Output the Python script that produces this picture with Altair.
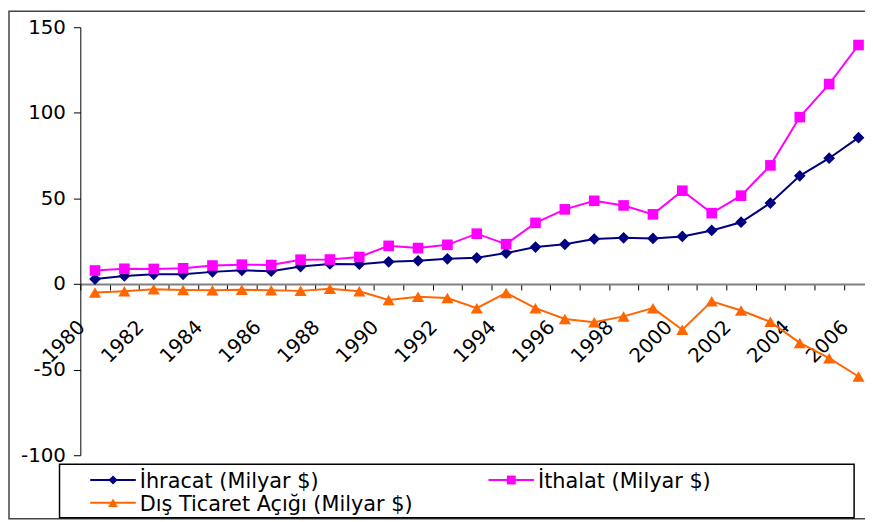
import altair as alt
import pandas as pd

years = list(range(1980, 2007))
ihracat = [2.9, 4.7, 5.7, 5.7, 7.1, 8.0, 7.5, 10.2, 11.7, 11.6, 13.0, 13.6, 14.7, 15.3,
           18.1, 21.6, 23.2, 26.3, 27.0, 26.6, 27.8, 31.3, 36.1, 47.3, 63.2, 73.5, 85.5]
ithalat = [7.9, 8.9, 8.8, 9.2, 10.8, 11.3, 11.1, 14.2, 14.3, 15.8, 22.3, 21.0, 22.9, 29.4,
           23.3, 35.7, 43.6, 48.6, 45.9, 40.7, 54.5, 41.4, 51.6, 69.3, 97.5, 116.8, 139.6]
acik = [-5.0, -4.2, -3.1, -3.5, -3.6, -3.4, -3.6, -4.0, -2.7, -4.2, -9.3, -7.4, -8.2, -14.1,
        -5.2, -14.1, -20.4, -22.3, -18.9, -14.1, -26.7, -10.1, -15.5, -22.1, -34.4, -43.3, -54.0]

series_names = ["İhracat (Milyar $)", "İthalat (Milyar $)", "Dış Ticaret Açığı (Milyar $)"]
series_colors = ["#000080", "#FF00FF", "#FF6600"]
series_shapes = ["diamond", "square", "triangle-up"]
series_sizes = [140, 115, 150]
legend_sizes = [85, 80, 100]
y_ticks = [-100, -50, 0, 50, 100, 150]

rows = []
for name, vals in zip(series_names, [ihracat, ithalat, acik]):
    for yr, v in zip(years, vals):
        rows.append({"year": yr, "series": name, "value": v})
df = pd.DataFrame(rows)

FONT = "DejaVu Sans"
PLOT_W, PLOT_H = 792, 432
Y_MIN, Y_MAX = -100, 150
px_per_year = 29.64
x_dom = [years[0] - 0.5, years[0] - 0.5 + PLOT_W / px_per_year]
zero_offset = -PLOT_H * (0 - Y_MIN) / (Y_MAX - Y_MIN)

tick_vals = [yr - 0.5 for yr in years]

x_enc = alt.X(
    "year:Q",
    scale=alt.Scale(domain=x_dom, nice=False, zero=False),
    axis=alt.Axis(
        values=tick_vals,
        labelExpr="(datum.value + 0.5) % 2 == 0 ? '' + (datum.value + 0.5) : ''",
        labelAngle=-45, labelAlign="right", labelBaseline="top",
        labelOffset=-6, labelPadding=27, tickSize=6, tickColor="black", tickWidth=1,
        domainColor="#808080", domainWidth=2, offset=zero_offset,
        grid=False, title=None, labelOverlap=False, labelFlush=False,
        labelFontSize=20, labelFont=FONT, labelColor="black",
    ),
)
y_enc = alt.Y(
    "value:Q",
    scale=alt.Scale(domain=[Y_MIN, Y_MAX], nice=False, zero=False),
    axis=alt.Axis(
        values=y_ticks, labelExpr="'' + datum.value", tickSize=7, tickColor="black",
        domainColor="black", domainWidth=1, labelPadding=8, labelFontSize=20,
        labelFont=FONT, labelColor="black", grid=False, title=None,
    ),
)

color_scale = alt.Scale(domain=series_names, range=series_colors)

lines = alt.Chart(df).mark_line(strokeWidth=2).encode(
    x=x_enc, y=y_enc,
    color=alt.Color("series:N", scale=color_scale, legend=None),
)

point_layers = []
for name, col, shp, sz in zip(series_names, series_colors, series_shapes, series_sizes):
    point_layers.append(
        alt.Chart(df).transform_filter(alt.datum.series == name)
        .mark_point(filled=True, opacity=1, size=sz, shape=shp, color=col)
        .encode(x=x_enc, y=y_enc)
    )

one = alt.Data(values=[{"k": 1}])
frame = alt.Chart(one).mark_rect(fill="transparent", stroke="#444444", strokeWidth=1.5).encode(
    x=alt.value(-72), x2=alt.value(820), y=alt.value(-16), y2=alt.value(496)
)
legend_box = alt.Chart(one).mark_rect(fill="white", stroke="black", strokeWidth=1.5).encode(
    x=alt.value(-21), x2=alt.value(781), y=alt.value(441), y2=alt.value(495)
)

# legend entries (row-major, two columns)
LEG_X0, LEG_COL_W = 10, 402
LEG_Y0, LEG_ROW_H = 457, 23
legend_layers = []
for i, (name, col, shp, lsz) in enumerate(zip(series_names, series_colors, series_shapes, legend_sizes)):
    r, c = divmod(i, 2)
    x0 = LEG_X0 + c * LEG_COL_W
    yc = LEG_Y0 + r * LEG_ROW_H
    legend_layers.append(
        alt.Chart(one).mark_rule(color=col, strokeWidth=2).encode(
            x=alt.value(x0), x2=alt.value(x0 + 46), y=alt.value(yc))
    )
    legend_layers.append(
        alt.Chart(one).mark_point(filled=True, opacity=1, shape=shp, size=lsz, color=col).encode(
            x=alt.value(x0 + 23), y=alt.value(yc))
    )
    legend_layers.append(
        alt.Chart(one).mark_text(align="left", baseline="alphabetic", fontSize=21, font=FONT,
                                 color="black").encode(
            x=alt.value(x0 + 50), y=alt.value(yc + 8), text=alt.value(name))
    )

chart = alt.layer(frame, legend_box, lines, *point_layers, *legend_layers).properties(
    width=PLOT_W, height=PLOT_H,
    padding={"left": 73, "top": 17, "right": 0, "bottom": 65},
    autosize=alt.AutoSizeParams(type="none"),
    background="white",
).configure_view(stroke=None)

chart.save("out.html", embed_options={"renderer": "svg", "actions": False})
